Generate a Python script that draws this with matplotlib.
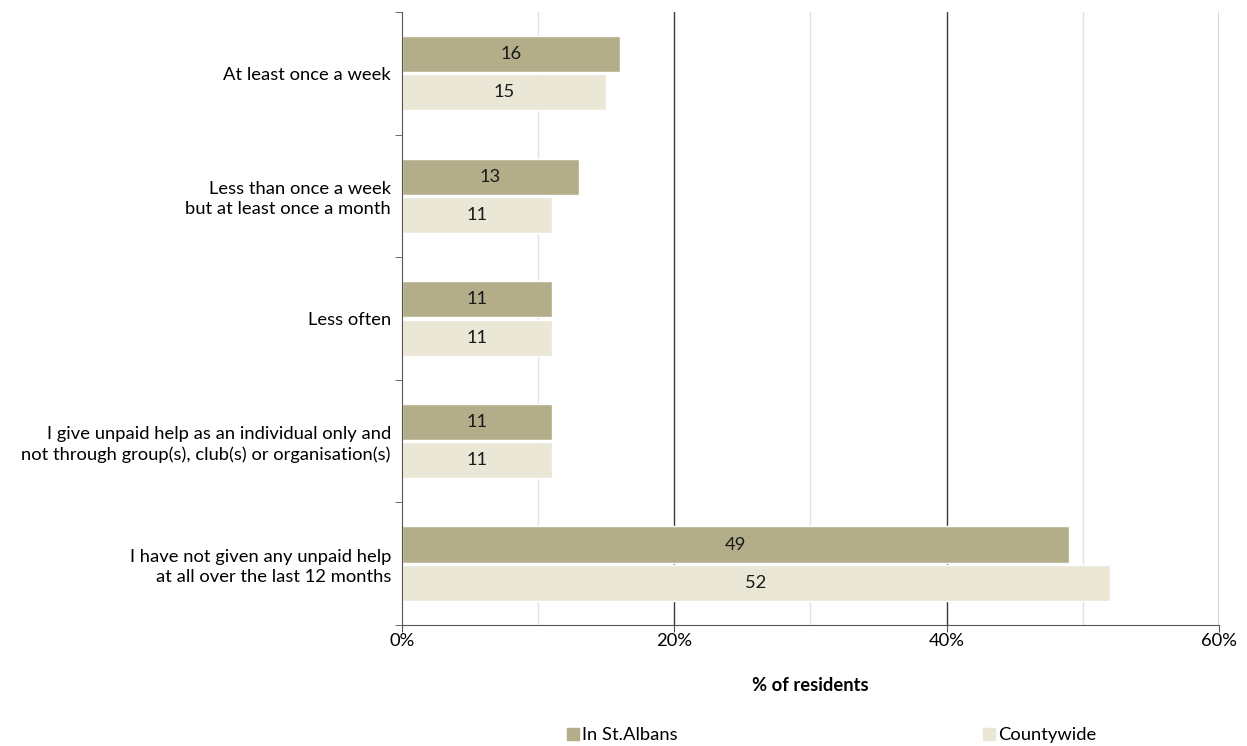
import numpy as np
import matplotlib.pyplot as plt
from matplotlib.ticker import FixedLocator

plt.rcParams['font.family'] = ['Lato', 'DejaVu Sans']

categories = [
    "At least once a week",
    "Less than once a week\nbut at least once a month",
    "Less often",
    "I give unpaid help as an individual only and\nnot through group(s), club(s) or organisation(s)",
    "I have not given any unpaid help\nat all over the last 12 months",
]
st_albans = [16, 13, 11, 11, 49]
countywide = [15, 11, 11, 11, 52]
series_names = ["In St.Albans", "Countywide"]

dark = "#b3ad89"
light = "#ebe7d6"
fs = 13.2

fig = plt.figure(figsize=(12.47, 7.46), dpi=100)
ax = fig.add_axes([0.3224, 0.1622, 0.6551, 0.8218])

y = np.arange(len(categories))
h = 0.295
off = 0.156

# gridlines first so the bars sit on top
for v in [10, 30, 50]:
    ax.axvline(v, color="#e2e2e2", lw=1, zorder=0)
for v in [20, 40, 60]:
    ax.axvline(v, color="#3a3a3a", lw=1, zorder=0)

b1 = ax.barh(y - off, st_albans, height=h, color=dark, edgecolor="white", lw=1, label=series_names[0], zorder=2)
b2 = ax.barh(y + off, countywide, height=h, color=light, edgecolor="white", lw=1, label=series_names[1], zorder=2)

for bars, vals in [(b1, st_albans), (b2, countywide)]:
    for bar, v in zip(bars, vals):
        ax.text(v / 2, bar.get_y() + bar.get_height() / 2, str(v),
                ha="center", va="center", fontsize=fs, color="#1a1a1a", zorder=3)

ax.set_xlim(0, 60)
ax.set_ylim(len(categories) - 0.5, -0.5)
ax.set_xticks([0, 20, 40, 60])
ax.set_xticklabels(["0%", "20%", "40%", "60%"], fontsize=fs)
ax.tick_params(axis="x", length=5, direction="out", color="#555555", pad=1)

ax.set_yticks(y)
ax.set_yticklabels(categories, fontsize=fs, ha="right", multialignment="right", linespacing=1.3)
ax.tick_params(axis="y", which="major", length=0, pad=8)
ax.yaxis.set_minor_locator(FixedLocator(np.arange(-0.5, len(categories), 1.0)))
ax.tick_params(axis="y", which="minor", length=5, direction="out", color="#555555")

for s in ["top", "right"]:
    ax.spines[s].set_visible(False)
ax.spines["left"].set_color("#555555")
ax.spines["bottom"].set_color("#555555")

ax.set_xlabel("% of residents", fontsize=fs, fontweight="bold", labelpad=20)

handles = [plt.Line2D([], [], marker="s", ls="", markersize=8.5, color=dark),
           plt.Line2D([], [], marker="s", ls="", markersize=8.5, color=light)]
fig.legend(handles, series_names, loc="lower center", bbox_to_anchor=(0.667, -0.018),
           ncol=2, frameon=False, fontsize=fs, handletextpad=0.2, columnspacing=16.7,
           handlelength=0.6)

fig.savefig("out.png", dpi=100)
